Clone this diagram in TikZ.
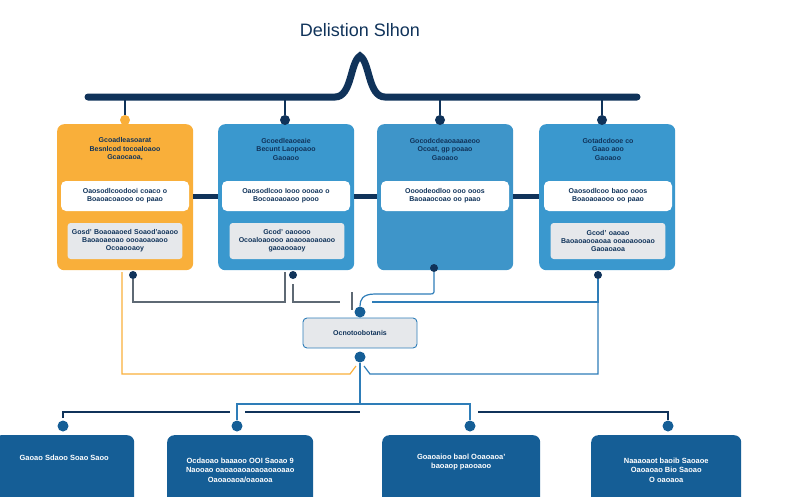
\documentclass[tikz,border=0pt]{standalone}
\usepackage{fontspec}
\setmainfont{Liberation Sans}
\definecolor{navy}{HTML}{10335A}
\definecolor{orng}{HTML}{F9AF3A}
\definecolor{blu}{HTML}{3A98CE}
\definecolor{blu3}{HTML}{3E95C9}
\definecolor{dblu}{HTML}{155E96}
\definecolor{lgray}{HTML}{E6E8EB}
\definecolor{lnk}{HTML}{2E7DB8}
\begin{document}
\begin{tikzpicture}[x=1pt,y=-1pt,
  card/.style={draw=none,rounded corners=7pt,minimum width=136pt,minimum height=146pt,anchor=north west},
  inw/.style={fill=white,rounded corners=5pt,minimum width=128pt,minimum height=30pt,font=\fontsize{7}{8}\selectfont\bfseries,text=navy,align=center,text width=120pt},
  ing/.style={fill=lgray,rounded corners=3pt,minimum width=112pt,minimum height=36pt,font=\fontsize{7}{8}\selectfont\bfseries,text=navy,align=center,text width=108pt},
  ttl/.style={font=\fontsize{7}{8.5}\selectfont\bfseries,text=navy,align=center},
  bot/.style={fill=dblu,rounded corners=7pt,anchor=north west,minimum height=70pt,text=white,font=\fontsize{7.5}{9.5}\selectfont\bfseries,align=center},
  pin/.style={circle,fill=navy,inner sep=0pt,minimum size=8pt},
  dpin/.style={circle,fill=dblu,inner sep=0pt,minimum size=11pt},
  gl/.style={draw=gray!70!navy,line width=1.2pt},
  bl/.style={draw=lnk,line width=1.2pt}]
\useasboundingbox (0,0) rectangle (800,496);
\node[font=\fontsize{18}{22}\selectfont,text=navy] (title) at (360,30) {Delistion Slhon};
% brace
\draw[navy,line width=7pt,line cap=round] (88,97) -- (335,97) .. controls (352,97) and (350,62) .. (360,56) .. controls (370,62) and (368,97) .. (385,97) -- (637,97);
% cards
\node[card,fill=orng] (c1) at (57,124) {};
\node[card,fill=blu] (c2) at (218,124) {};
\node[card,fill=blu3] (c3) at (377,124) {};
\node[card,fill=blu] (c4) at (539,124) {};
\draw[navy,line width=5pt] (c1.east|-0,196) -- (c2.west|-0,196) (c2.east|-0,196) -- (c3.west|-0,196) (c3.east|-0,196) -- (c4.west|-0,196);
\foreach \c/\x/\col in {c1/125/orng,c2/285/navy,c3/440/navy,c4/602/navy}{
  \coordinate (t\c) at (\x,97);
  \node[circle,fill=\col,inner sep=0pt,minimum size=10pt] (p\c) at (\x,120) {};
  \draw[navy,line width=1.5pt] (t\c) -- (p\c);
}
\node[ttl] (t1) at (125,149) {Gcoadleasoarat\\Besnlcod tocoaloaoo\\Gcaocaoa,};
\node[ttl] (t2) at (286,149) {Gcoedleaoeaie\\Becunt Laopoaoo\\Gaoaoo};
\node[ttl] (t3) at (445,149) {Gocodcdeaoaaaaeoo\\Ocoat, gp poaao\\Gaoaoo};
\node[ttl] (t4) at (608,149) {Gotadcdooe co\\Gaao aoo\\Gaoaoo};
\node[inw] (w1) at (125,196) {Oaosodlcoodooi coaco o\\Boaoacoaooo oo paao};
\node[inw] (w2) at (286,196) {Oaosodlcoo Iooo oooao o\\Bocoaoaoaoo pooo};
\node[inw] (w3) at (445,196) {Oooodeodloo ooo ooos\\Baoaaocoao oo paao};
\node[inw] (w4) at (608,196) {Oaosodlcoo baoo ooos\\Boaoaoaooo oo paao};
\node[ing] (g1) at (125,241) {Gosd' Boaoaaoed Soaod'aoaoo\\Baoaoaeoao oooaoaoaoo\\Ocoaooaoy};
\node[ing,minimum width=110pt] (g2) at (287,241) {Gcod' oaoooo\\Ocoaloaoooo aoaooaoaoaoo\\gaoaooaoy};
\node[ing] (g4) at (608,241) {Gcod' oaoao\\Baoaoaooaoaa ooaoaoooao\\Gaoaoaoa};
% center
\node[draw=lnk,fill=lgray,rounded corners=4pt,minimum width=114pt,minimum height=30pt,font=\fontsize{7}{8}\selectfont\bfseries,text=navy,line width=0.9pt] (ctr) at (360,333) {Ocnotoobotanis};
\node[dpin] (ctop) at (360,312) {};
\node[dpin] (cbot) at (360,357) {};
% pins under cards
\node[pin] (b1) at (133,275) {};
\node[pin] (b2) at (293,275) {};
\node[pin] (b3) at (434,268) {};
\node[pin] (b4) at (598,275) {};
\coordinate (o1) at (122,272);
\draw[orng,line width=1.2pt] (o1) -- (122,374) -- (350,374) -- (356,366);
\draw[gl] (b1) -- (133,302) -- (285,302) -- (285,272);
\draw[gl] (293,284) -- (293,302) -- (340,302);
\draw[gl] (352,292) -- (352,310);
\draw[bl] (b3) -- (434,292) .. controls (434,294) and (432,294) .. (430,294) -- (375,294) .. controls (362,294) and (360,300) .. (ctop);
\draw[bl] (b4) -- (598,302) -- (372,302);
\draw[bl] (598,302) -- (598,374) -- (370,374) -- (364,366);
% bottom tree
\draw[bl] (cbot) -- (360,404) -- (237,404) -- (237,420);
\draw[bl] (360,404) -- (470,404) -- (470,420);
\draw[navy,line width=1.5pt] (63,418) -- (63,412) -- (230,412);
\draw[navy,line width=1.5pt] (245,412) -- (360,412);
\draw[navy,line width=1.5pt] (478,412) -- (668,412) -- (668,420);
\node[dpin] (q1) at (63,426) {};
\node[dpin] (q2) at (237,426) {};
\node[dpin] (q3) at (470,426) {};
\node[dpin] (q4) at (668,426) {};
\node[bot,minimum width=140pt] (n1) at (-6,435) {Gaoao Sdaoo Soao Saoo\\[16pt]};
\node[bot,minimum width=146pt] (n2) at (167,435) {Ocdaoao baaaoo OOI Saoao 9\\Naooao oaoaoaoaoaoaoaoaao\\Oaoaoaoa/oaoaoa};
\node[bot,minimum width=158pt] (n3) at (382,435) {Goaoaioo baol Ooaoaoa'\\baoaop paooaoo\\[8pt]};
\node[bot,minimum width=150pt] (n4) at (591,435) {Naaaoaot baoib Saoaoe\\Oaoaoao Bio Saoao\\O oaoaoa};
\end{tikzpicture}
\end{document}
